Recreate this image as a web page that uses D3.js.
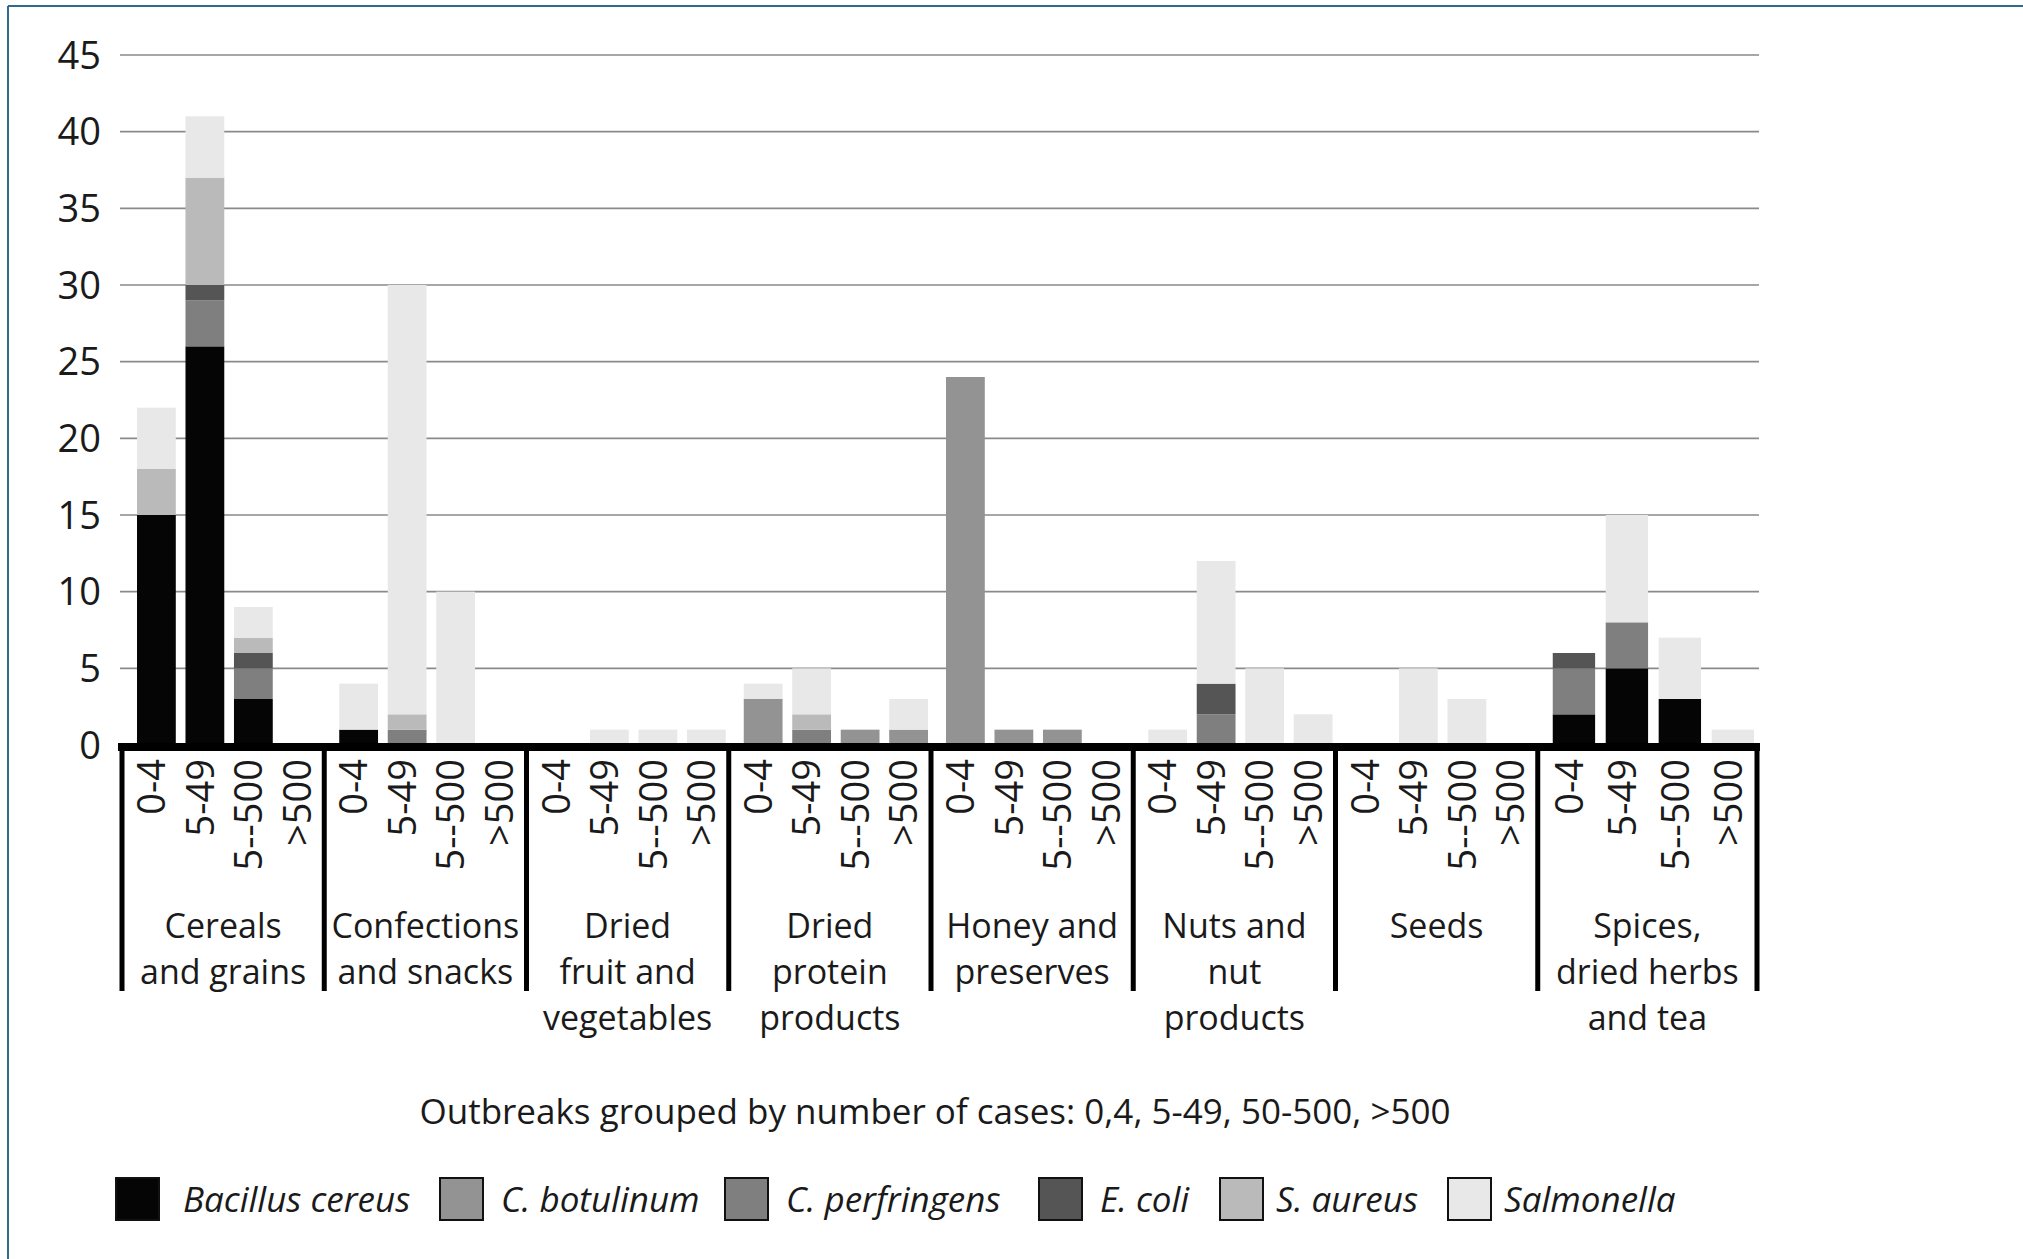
<!DOCTYPE html>
<html>
<head>
<meta charset="utf-8">
<script src="https://cdn.jsdelivr.net/npm/d3@7"></script>
<style>
  html, body { margin: 0; padding: 0; background: #fff; }
  svg { display: block; }
  text { font-family: "Open Sans", "Noto Sans", sans-serif; fill: #1a1a1a; }
</style>
</head>
<body>
<svg id="chart" width="2023" height="1259"></svg>
<script>
// ---- data ----
const categories = [
  "Cereals|and grains",
  "Confections|and snacks",
  "Dried|fruit and|vegetables",
  "Dried|protein|products",
  "Honey and|preserves",
  "Nuts and|nut|products",
  "Seeds",
  "Spices,|dried herbs|and tea"
];
const sizeLabels = ["0-4", "5-49", "5--500", ">500"];
const seriesNames = ["Bacillus cereus", "C. botulinum", "C. perfringens", "E. coli", "S. aureus", "Salmonella"];
const seriesColors = ["#050505", "#939393", "#7f7f7f", "#555555", "#bababa", "#e8e8e8"];
const yTicks = [0, 5, 10, 15, 20, 25, 30, 35, 40, 45];
const captionText = "Outbreaks grouped by number of cases: 0,4, 5-49, 50-500, >500";

// values per bar (8 groups x 4 size classes)
const bacillusCereus = [15,26,3,0, 1,0,0,0, 0,0,0,0, 0,0,0,0, 0,0,0,0, 0,0,0,0, 0,0,0,0, 2,5,3,0];
const cBotulinum     = [0,0,0,0, 0,0,0,0, 0,0,0,0, 3,0,1,1, 24,1,1,0, 0,0,0,0, 0,0,0,0, 0,0,0,0];
const cPerfringens   = [0,3,2,0, 0,1,0,0, 0,0,0,0, 0,1,0,0, 0,0,0,0, 0,2,0,0, 0,0,0,0, 3,3,0,0];
const eColi          = [0,1,1,0, 0,0,0,0, 0,0,0,0, 0,0,0,0, 0,0,0,0, 0,2,0,0, 0,0,0,0, 1,0,0,0];
const sAureus        = [3,7,1,0, 0,1,0,0, 0,0,0,0, 0,1,0,0, 0,0,0,0, 0,0,0,0, 0,0,0,0, 0,0,0,0];
const salmonella     = [4,4,2,0, 3,28,10,0, 0,1,1,1, 1,3,0,2, 0,0,0,0, 1,8,5,2, 0,5,3,0, 0,7,4,1];

const seriesValues = [bacillusCereus, cBotulinum, cPerfringens, eColi, sAureus, salmonella];

// build table
const rows = [];
categories.forEach((c, gi) => {
  sizeLabels.forEach((s, si) => {
    const idx = gi * 4 + si;
    const row = { group: c, size: s };
    seriesNames.forEach((n, k) => { row[n] = seriesValues[k][idx]; });
    rows.push(row);
  });
});

// ---- layout ----
const svg = d3.select("#chart");
const plotLeft = 122, plotRight = 1757, gridLeft = 120;
const y = d3.scaleLinear().domain([0, 45]).range([745, 55]);
const x0 = d3.scaleBand().domain(categories).range([plotLeft, 1740]);
const groupEdges = categories.map(c => x0(c)).concat([plotRight]);

function innerScale(gi) {
  const a = groupEdges[gi], b = groupEdges[gi + 1];
  return d3.scaleBand().domain(sizeLabels).range([a + 15, b - 3]).paddingInner(0.2).paddingOuter(0);
}

// frame border
svg.append("line").attr("x1", 8).attr("x2", 2023).attr("y1", 6).attr("y2", 6)
  .attr("stroke", "#2f6b8c").attr("stroke-width", 2);
svg.append("line").attr("x1", 8).attr("x2", 8).attr("y1", 6).attr("y2", 1259)
  .attr("stroke", "#2f6b8c").attr("stroke-width", 2);

// gridlines
svg.append("g").selectAll("line").data(yTicks.filter(t => t > 0)).join("line")
  .attr("x1", gridLeft).attr("x2", plotRight + 2)
  .attr("y1", d => y(d)).attr("y2", d => y(d))
  .attr("stroke", "#8a8a8a").attr("stroke-width", 1.6);

// y tick labels
svg.append("g").selectAll("text").data(yTicks).join("text")
  .attr("x", 101).attr("y", d => y(d)).attr("dy", "0.36em")
  .attr("text-anchor", "end").attr("font-size", 38)
  .text(d => d);

// stacked bars
const stacked = d3.stack().keys(seriesNames)(rows);
const barLayer = svg.append("g");
stacked.forEach((layer, k) => {
  barLayer.append("g").attr("fill", seriesColors[k])
    .selectAll("rect").data(layer.filter(d => d[1] - d[0] > 0)).join("rect")
    .attr("x", d => innerScale(categories.indexOf(d.data.group))(d.data.size))
    .attr("width", d => innerScale(categories.indexOf(d.data.group)).bandwidth())
    .attr("y", d => y(d[1]))
    .attr("height", d => y(d[0]) - y(d[1]));
});

// axis baseline
svg.append("line").attr("x1", plotLeft - 4).attr("x2", plotRight + 3)
  .attr("y1", y(0) + 2).attr("y2", y(0) + 2)
  .attr("stroke", "#000").attr("stroke-width", 8);

// group separators
svg.append("g").selectAll("line").data(groupEdges).join("line")
  .attr("x1", d => d).attr("x2", d => d)
  .attr("y1", y(0)).attr("y2", 991)
  .attr("stroke", "#000").attr("stroke-width", 5);

// size labels (rotated)
const tickG = svg.append("g");
categories.forEach((c, gi) => {
  const sc = innerScale(gi);
  sizeLabels.forEach(s => {
    const cx = sc(s) + sc.bandwidth() / 2 - 5;
    tickG.append("text")
      .attr("transform", `translate(${cx},759) rotate(-90)`)
      .attr("text-anchor", "end").attr("dy", "0.36em")
      .attr("font-size", 38)
      .text(s);
  });
});

// group labels
const grpG = svg.append("g");
categories.forEach((c, gi) => {
  const cx = (groupEdges[gi] + groupEdges[gi + 1]) / 2;
  const t = grpG.append("text").attr("text-anchor", "middle").attr("font-size", 34);
  c.split("|").forEach((ln, i) => {
    t.append("tspan").attr("x", cx).attr("y", 938 + i * 46).text(ln);
  });
});

// caption
svg.append("text").attr("x", 935).attr("y", 1124).attr("text-anchor", "middle")
  .attr("font-size", 35).text(captionText);

// legend
const legendX = [116, 440, 725, 1039, 1220, 1448];
const legendTextX = [183, 501, 786, 1100, 1276, 1504];
const legG = svg.append("g");
seriesNames.forEach((n, k) => {
  legG.append("rect").attr("x", legendX[k]).attr("y", 1178).attr("width", 43).attr("height", 42)
    .attr("fill", seriesColors[k]).attr("stroke", "#111").attr("stroke-width", 2);
  legG.append("text").attr("x", legendTextX[k]).attr("y", 1199).attr("dy", "0.36em")
    .attr("font-size", 35).attr("font-style", "italic").text(n);
});
</script>
</body>
</html>
